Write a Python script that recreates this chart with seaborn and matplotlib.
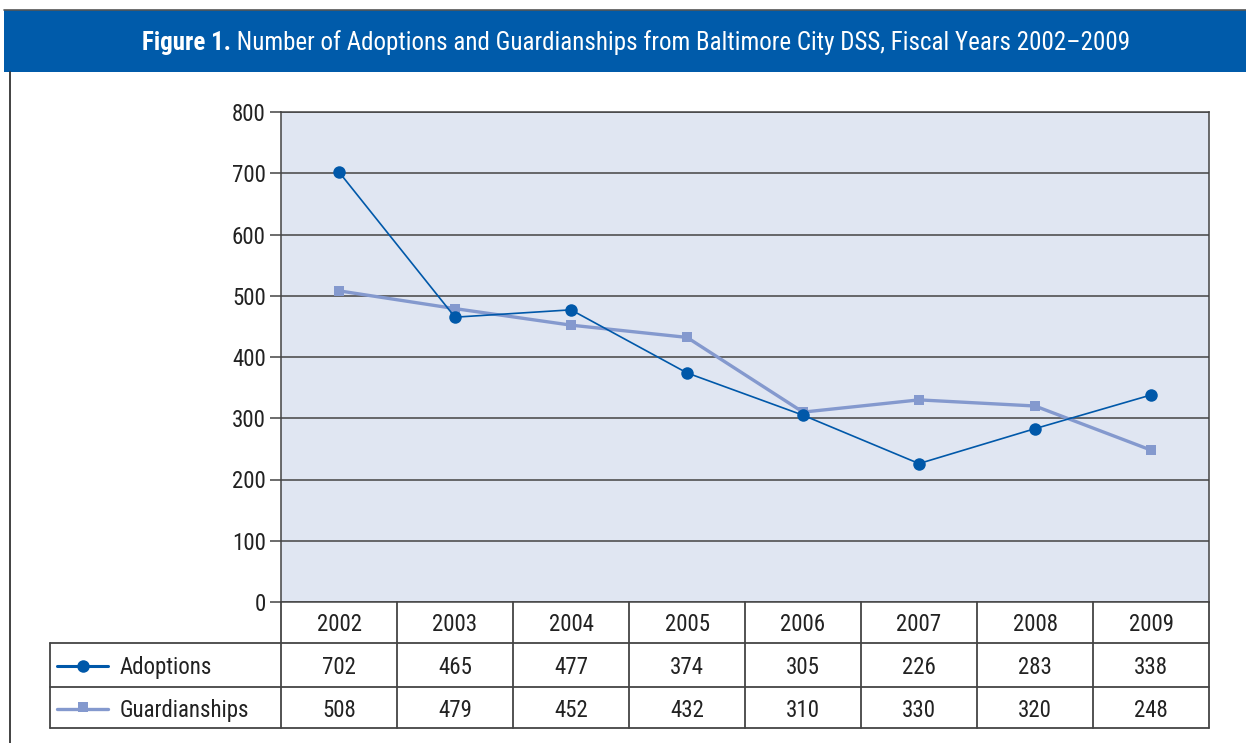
import matplotlib
matplotlib.use("Agg")
import matplotlib.pyplot as plt
import matplotlib.transforms as mtransforms
from matplotlib import font_manager
from matplotlib.lines import Line2D
from matplotlib.patches import Rectangle
import seaborn as sns
import pandas as pd

# ---- data ----
years = ["2002", "2003", "2004", "2005", "2006", "2007", "2008", "2009"]
adoptions = [702, 465, 477, 374, 305, 226, 283, 338]
guardianships = [508, 479, 452, 432, 310, 330, 320, 248]
series_names = ["Adoptions", "Guardianships"]
y_ticks = [0, 100, 200, 300, 400, 500, 600, 700, 800]
title_bold = "Figure 1."
title_rest = " Number of Adoptions and Guardianships from Baltimore City DSS, Fiscal Years 2002\u20132009"

# ---- style ----
sns.set_theme(style="white")
font = "DejaVu Sans"
for cand in ["Liberation Sans Narrow", "Roboto Condensed", "Liberation Sans"]:
    try:
        font_manager.findfont(cand, fallback_to_default=False)
        font = cand
        break
    except Exception:
        pass
plt.rcParams["font.family"] = [font, "DejaVu Sans"]

c_adopt = "#0058A9"
c_guard = "#8499CE"
c_bg = "#E0E6F2"
c_head = "#005BAA"
c_line = "#444444"
c_text = "#222222"
fs = 16.5

W, H = 1246, 743
fig = plt.figure(figsize=(W / 100, H / 100), dpi=100)
fig.patch.set_facecolor("white")

# axes: plot area 281..1209 x, 112..602 y
ax = fig.add_axes([281 / W, (H - 602) / H, 928 / W, 490 / H])
ax.set_facecolor(c_bg)

df = pd.DataFrame({
    "idx": list(range(len(years))) * 2,
    "value": adoptions + guardianships,
    "series": [series_names[0]] * len(years) + [series_names[1]] * len(years),
})

sns.lineplot(data=df[df.series == "Guardianships"], x="idx", y="value", ax=ax,
             color=c_guard, lw=2.4, marker="s", markersize=7.5,
             markeredgewidth=0, legend=False, zorder=3)
sns.lineplot(data=df[df.series == "Adoptions"], x="idx", y="value", ax=ax,
             color=c_adopt, lw=1.2, marker="o", markersize=9,
             markeredgewidth=0, legend=False, zorder=4)

ax.set_xlim(-0.5, len(years) - 0.5)
ax.set_ylim(0, 800)
ax.set_yticks(y_ticks)
ax.set_yticklabels([str(v) for v in y_ticks])
ax.set_xticks([])
ax.set_xlabel("")
ax.set_ylabel("")
ax.yaxis.grid(True, color=c_line, lw=1.1)
ax.set_axisbelow(True)
ax.tick_params(axis="y", left=True, length=8, width=1.1, color=c_line, pad=3,
               labelsize=fs, labelcolor=c_text)
for s in ["left", "right", "top", "bottom"]:
    ax.spines[s].set_visible(True)
    ax.spines[s].set_color(c_line)
    ax.spines[s].set_linewidth(1.1)

# ---- table below the axes (x in data units, y in pixel rows) ----
def ay(ypix):
    return (602 - ypix) / 490.0

tr = mtransforms.blended_transform_factory(ax.transData, ax.transAxes)
left_x = -0.5 - (281 - 50) / 116.0
right_x = len(years) - 0.5
lkw = dict(transform=tr, color=c_line, lw=1.3, clip_on=False)

for ypix in [643, 687, 728]:
    ax.add_line(Line2D([left_x, right_x], [ay(ypix), ay(ypix)], **lkw))
for i in range(len(years) + 1):
    xx = i - 0.5
    ax.add_line(Line2D([xx, xx], [ay(602), ay(728)], **lkw))
ax.add_line(Line2D([left_x, left_x], [ay(643), ay(728)], **lkw))

tkw = dict(transform=tr, fontsize=fs, color=c_text, ha="center", va="center", clip_on=False)
for i, yr in enumerate(years):
    ax.text(i, ay(624.5), yr, **tkw)
    ax.text(i, ay(667.5), str(adoptions[i]), **tkw)
    ax.text(i, ay(710.5), str(guardianships[i]), **tkw)

# legend keys in table
key_x0 = -0.5 - (281 - 57) / 116.0
key_x1 = -0.5 - (281 - 108) / 116.0
key_xm = (key_x0 + key_x1) / 2
name_x = -0.5 - (281 - 120) / 116.0
ax.add_line(Line2D([key_x0, key_x1], [ay(666), ay(666)], transform=tr, color=c_adopt,
                   lw=2.2, clip_on=False))
ax.add_line(Line2D([key_xm], [ay(666)], transform=tr, color=c_adopt, marker="o",
                   markersize=9, markeredgewidth=0, clip_on=False))
ax.add_line(Line2D([key_x0, key_x1], [ay(709), ay(709)], transform=tr, color=c_guard,
                   lw=2.4, clip_on=False))
ax.add_line(Line2D([key_xm], [ay(707)], transform=tr, color=c_guard, marker="s",
                   markersize=7.5, markeredgewidth=0, clip_on=False))
ax.text(name_x, ay(667.5), series_names[0], transform=tr, fontsize=fs, color=c_text,
        ha="left", va="center", clip_on=False)
ax.text(name_x, ay(710.5), series_names[1], transform=tr, fontsize=fs, color=c_text,
        ha="left", va="center", clip_on=False)

# ---- header bar and frame ----
fig.patches.append(Rectangle((4 / W, (H - 72) / H), 1242 / W, 62 / H,
                             transform=fig.transFigure, facecolor=c_head,
                             edgecolor="none", zorder=0))
fig.add_artist(Line2D([4 / W, 1.0], [(H - 10) / H, (H - 10) / H],
                      transform=fig.transFigure, color="#555555", lw=1.2))
fig.add_artist(Line2D([9.5 / W, 9.5 / W], [0, (H - 72) / H],
                      transform=fig.transFigure, color="#333333", lw=1.3))

# title: bold part + regular part, centered together
ty = (H - 43) / H
t1 = fig.text(0, ty, title_bold, fontsize=18, fontweight="bold", color="white",
              ha="left", va="center")
t2 = fig.text(0, ty, title_rest, fontsize=18, color="white", ha="left", va="center")
r = fig.canvas.get_renderer()
w1 = t1.get_window_extent(r).width
w2 = t2.get_window_extent(r).width
start = (636 - (w1 + w2) / 2)
t1.set_x(start / W)
t2.set_x((start + w1) / W)

fig.savefig("out.png", dpi=100, facecolor="white")
